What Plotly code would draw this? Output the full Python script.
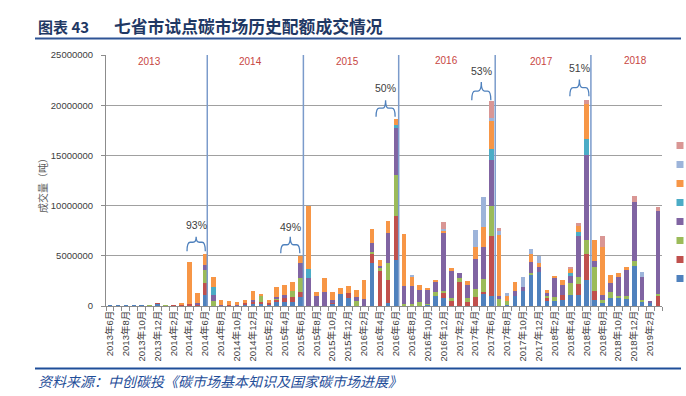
import plotly.graph_objects as go

# ---------------- data (values in 万吨 = 10,000 tonnes) ----------------
UNIT = 10000
months = [f"{y}年{m}月" for y in range(2013, 2020) for m in range(1, 13)
          if (2013, 6) <= (y, m) <= (2019, 3)]

series_names = ["深圳", "上海", "北京", "广东", "天津", "湖北", "重庆", "福建"]
series_colors = ["#4F81BD", "#C0504D", "#9BBB59", "#8064A2",
                 "#4BACC6", "#F79646", "#9DB4DA", "#D99694"]

s_blue = [2, 2, 2, 6, 2, 2, 25, 3, 5, 5,
          5, 5, 110, 0, 5, 0, 0, 15, 20, 20,
          15, 35, 40, 35, 85, 0, 0, 0, 20, 120,
          80, 0, 0, 425, 5, 25, 455, 0, 0, 0,
          10, 95, 76, 0, 0, 5, 0, 120, 95, 0,
          10, 100, 145, 310, 335, 45, 45, 55, 105, 110,
          260, 60, 30, 75, 75, 65, 400, 35, 25, 0]
s_red = [0, 0, 0, 0, 0, 0, 2, 0, 5, 10,
         10, 10, 120, 0, 0, 10, 0, 15, 15, 15,
         10, 25, 35, 55, 55, 0, 0, 0, 10, 0,
         50, 0, 0, 100, 340, 235, 445, 0, 0, 0,
         0, 0, 50, 50, 240, 35, 93, 20, 600, 0,
         0, 0, 0, 0, 0, 30, 0, 55, 0, 110,
         260, 90, 0, 0, 0, 0, 0, 0, 0, 95]
s_green = [0, 0, 0, 0, 0, 3, 0, 2, 0, 0,
           0, 0, 130, 45, 0, 0, 0, 0, 0, 60,
           0, 15, 0, 55, 135, 0, 0, 0, 0, 0,
           0, 50, 0, 10, 30, 165, 400, 20, 20, 40,
           5, 45, 23, 25, 40, 35, 73, 130, 300, 65,
           35, 0, 0, 15, 0, 25, 40, 0, 125, 65,
           140, 235, 25, 65, 25, 35, 45, 25, 0, 25]
s_purple = [0, 0, 0, 0, 0, 0, 0, 0, 0, 0,
            0, 15, 50, 65, 5, 0, 10, 0, 25, 0,
            0, 15, 30, 0, 155, 275, 95, 135, 30, 0,
            0, 40, 65, 95, 25, 305, 470, 180, 180, 120,
            150, 100, 575, 275, 50, 135, 300, 320, 460, 30,
            0, 45, 45, 110, 50, 25, 195, 95, 70, 415,
            840, 60, 55, 85, 190, 255, 590, 225, 20, 830]
s_teal = [0, 0, 0, 0, 0, 0, 0, 0, 0, 0,
          0, 0, 0, 75, 0, 0, 0, 0, 0, 0,
          0, 0, 0, 0, 0, 95, 0, 0, 0, 0,
          0, 0, 0, 0, 0, 0, 30, 0, 0, 0,
          0, 0, 0, 0, 0, 0, 0, 0, 110, 0,
          0, 0, 0, 0, 0, 0, 0, 0, 30, 35,
          160, 0, 0, 0, 0, 0, 0, 0, 0, 0]
s_orange = [0, 0, 0, 0, 0, 0, 0, 0, 0, 10,
            420, 100, 110, 100, 45, 40, 25, 30, 90, 25,
            35, 95, 100, 95, 65, 630, 40, 140, 80, 60,
            70, 70, 195, 140, 55, 120, 60, 520, 90, 50,
            10, 20, 27, 25, 0, 40, 120, 200, 280, 610,
            55, 95, 0, 80, 40, 35, 20, 55, 40, 60,
            355, 215, 475, 85, 35, 35, 0, 0, 0, 0]
s_lightblue = [0] * 38 + [20, 0,
               0, 0, 17, 0, 0, 0, 170, 300, 27, 40,
               30, 0, 95, 55, 75, 0, 0, 0, 0, 0,
               0, 0, 0, 0, 0, 0, 0, 50, 0, 0]
s_pink = [0] * 40 + [0, 0, 67, 0, 0, 0, 0, 0, 165, 35,
                     0, 0, 0, 0, 0, 0, 0, 0, 15, 35,
                     40, 0, 115, 0, 0, 0, 60, 0, 0, 35]
series_values = [s_blue, s_red, s_green, s_purple, s_teal, s_orange, s_lightblue, s_pink]

year_labels = ["2013", "2014", "2015", "2016", "2017", "2018"]
share_labels = ["93%", "49%", "50%", "53%", "51%"]
y_ticks = [0, 5000000, 10000000, 15000000, 20000000, 25000000]

# ---------------- layout helpers ----------------
W, H = 686, 396
L, R, T, B = 106, 24, 55, 90
def px_x(px): return (px - L) / (W - L - R)
def px_y(py): return (H - B - py) / (H - T - B)

fig = go.Figure()
for name, color, vals in zip(series_names, series_colors, series_values):
    fig.add_trace(go.Bar(x=months, y=[v * UNIT for v in vals], name=name,
                         marker=dict(color=color, line=dict(width=0)),
                         legendgroup=name, showlegend=False))
# small square legend keys (their labels are off the right edge in the original)
for name, color in zip(series_names, series_colors):
    fig.add_trace(go.Scatter(x=[None], y=[None], mode="markers", name="",
                             legendgroup=name, hoverinfo="skip",
                             marker=dict(symbol="square", size=7, color=color)))

shapes = []
split_months = ["2014年6月", "2015年6月", "2016年6月", "2017年6月", "2018年6月"]
split_offsets = [0.25, 0.35, 0.35, 0.5, 0.55]
for m, off in zip(split_months, split_offsets):
    xv = months.index(m) + off
    shapes.append(dict(type="line", xref="x", yref="y", x0=xv, x1=xv, y0=0, y1=25000000,
                       line=dict(color="#7B9BCB", width=1.5), layer="above"))

braces = [(9.7, 12.0, 5.45e6, 6.35e6, 6.9e6, 8.05e6),
          (21.5, 23.9, 5.25e6, 6.1e6, 6.9e6, 7.9e6),
          (33.5, 35.9, 18.85e6, 19.7e6, 20.5e6, 21.7e6),
          (45.55, 47.95, 20.5e6, 21.4e6, 22.3e6, 23.4e6),
          (57.9, 60.3, 20.9e6, 21.75e6, 22.55e6, 23.7e6)]
annotations = []
for (x0, x1, ye, yb, yt, ly), lab in zip(braces, share_labels):
    xm = (x0 + x1) / 2
    r = 0.4
    path = (f"M {x0},{ye} Q {x0},{yb} {x0 + r},{yb} L {xm - r},{yb} "
            f"Q {xm},{yb} {xm},{yt} Q {xm},{yb} {xm + r},{yb} L {x1 - r},{yb} "
            f"Q {x1},{yb} {x1},{ye}")
    shapes.append(dict(type="path", xref="x", yref="y", path=path,
                       line=dict(color="#4F81BD", width=1.3)))
    annotations.append(dict(x=xm, y=ly, xref="x", yref="y", text=lab, showarrow=False,
                            xanchor="center", yanchor="middle",
                            font=dict(family="Liberation Sans", size=10.5, color="#404040")))

year_x = [5.0, 17.75, 29.85, 42.4, 54.3, 66.2]
year_py = [62, 62, 62, 61, 61.5, 60.5]
for yl, xv, py in zip(year_labels, year_x, year_py):
    annotations.append(dict(x=xv, y=px_y(py), xref="x", yref="paper", text=yl, showarrow=False,
                            xanchor="center", yanchor="middle",
                            font=dict(family="Liberation Sans", size=10, color="#C8463F")))

shapes.append(dict(type="line", xref="paper", yref="paper", x0=px_x(35), x1=px_x(681),
                   y0=px_y(38.5), y1=px_y(38.5), line=dict(color="#2F5496", width=2)))
shapes.append(dict(type="line", xref="paper", yref="paper", x0=px_x(35), x1=px_x(681),
                   y0=px_y(368.5), y1=px_y(368.5), line=dict(color="#1F4E99", width=2)))
annotations.append(dict(x=px_x(36), y=px_y(26), xref="paper", yref="paper",
                        xanchor="left", yanchor="middle",
                        text="<b>图表 43</b>", showarrow=False,
                        font=dict(family="Noto Sans CJK SC", size=15, color="#1F3864")))
annotations.append(dict(x=px_x(112), y=px_y(26), xref="paper", yref="paper",
                        xanchor="left", yanchor="middle",
                        text="<b>七省市试点碳市场历史配额成交情况</b>", showarrow=False,
                        font=dict(family="Noto Sans CJK SC", size=16.8, color="#1F3864")))
annotations.append(dict(x=px_x(36), y=px_y(381), xref="paper", yref="paper",
                        xanchor="left", yanchor="middle",
                        text="<i>资料来源：中创碳投《碳市场基本知识及国家碳市场进展》</i>",
                        showarrow=False,
                        font=dict(family="Noto Sans CJK SC", size=14, color="#1F4E99")))
annotations.append(dict(x=px_x(42), y=px_y(183), xref="paper", yref="paper",
                        xanchor="center", yanchor="middle",
                        text="成交量（吨）", textangle=-90, showarrow=False,
                        font=dict(family="Noto Sans CJK SC", size=10, color="#595959")))

tick_text = [m if i % 2 == 0 else "" for i, m in enumerate(months)]

fig.update_layout(
    width=W, height=H,
    margin=dict(l=L, r=R, t=T, b=B, autoexpand=False),
    paper_bgcolor="white", plot_bgcolor="white",
    barmode="stack", bargap=0.42,
    shapes=shapes, annotations=annotations,
    showlegend=True,
    legend=dict(x=px_x(660), y=px_y(131), xanchor="left", yanchor="top",
                traceorder="reversed", font=dict(family="Noto Sans CJK SC", size=11, color="#404040"),
                bgcolor="rgba(0,0,0,0)"),
    xaxis=dict(type="category", tickmode="array", tickvals=months, ticktext=tick_text,
               tickangle=-90, tickson="boundaries", ticks="outside", ticklen=4,
               tickcolor="#8C8C8C", showline=True, linecolor="#8C8C8C", linewidth=1,
               showgrid=False, range=[-0.5, len(months) - 0.5],
               tickfont=dict(family="Liberation Sans, Noto Sans CJK SC", size=9.5, color="#404040")),
    yaxis=dict(range=[0, 25000000], tickmode="array", tickvals=y_ticks, tickformat="d",
               ticks="outside", ticklen=4, tickcolor="#8C8C8C", ticklabelstandoff=6,
               showline=True, linecolor="#8C8C8C", linewidth=1,
               showgrid=True, gridcolor="#A0A0A0", gridwidth=1.2, zeroline=False,
               tickfont=dict(family="Liberation Sans", size=9.5, color="#404040")),
)

fig.write_html("out.html", config={"displayModeBar": False},
               post_script="document.body.style.margin='0';document.body.style.overflow='hidden';")
